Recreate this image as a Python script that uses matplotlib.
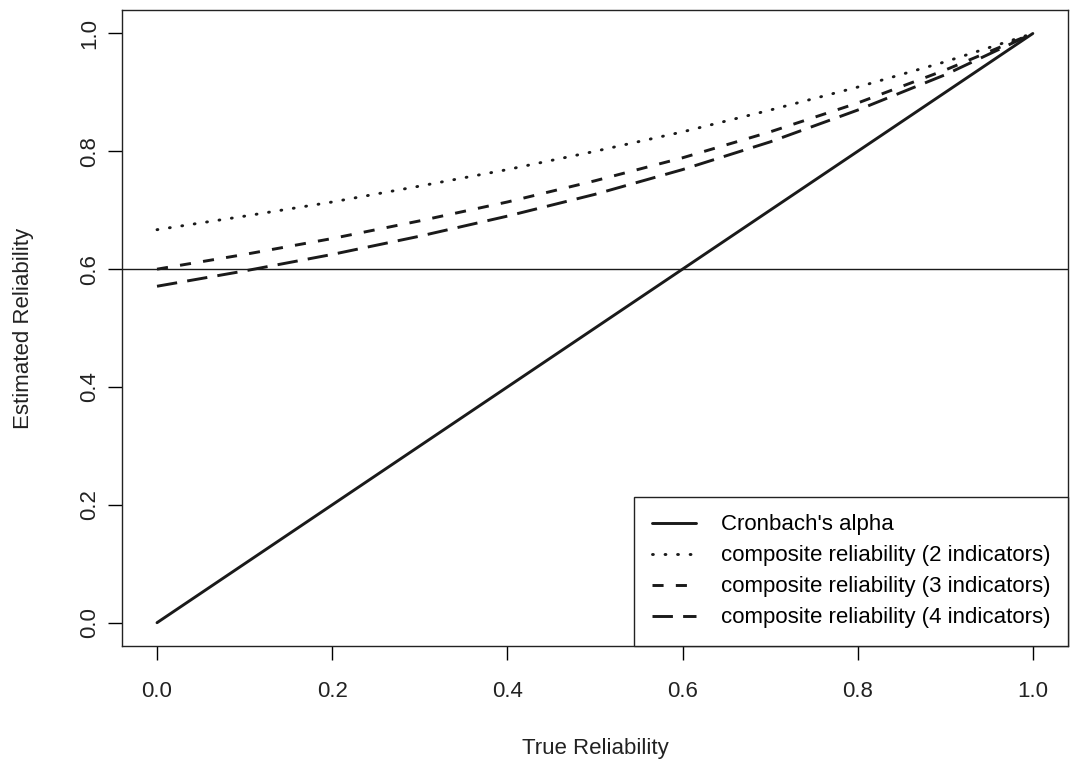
import matplotlib.pyplot as plt

plt.rcParams['font.family'] = ['Liberation Sans', 'DejaVu Sans']

true_rel = [0.0, 0.1, 0.2, 0.3, 0.4, 0.5, 0.6, 0.7, 0.8, 0.9, 1.0]
alpha = [0.0, 0.1, 0.2, 0.3, 0.4, 0.5, 0.6, 0.7, 0.8, 0.9, 1.0]
cr2 = [0.667, 0.690, 0.714, 0.741, 0.769, 0.800, 0.833, 0.870, 0.909, 0.952, 1.0]
cr3 = [0.600, 0.625, 0.652, 0.682, 0.714, 0.750, 0.789, 0.833, 0.882, 0.938, 1.0]
cr4 = [0.571, 0.597, 0.625, 0.656, 0.690, 0.727, 0.769, 0.816, 0.870, 0.930, 1.0]
labels = ["Cronbach's alpha",
          "composite reliability (2 indicators)",
          "composite reliability (3 indicators)",
          "composite reliability (4 indicators)"]
ticks = [0.0, 0.2, 0.4, 0.6, 0.8, 1.0]
threshold = 0.6

fs = 16
fig = plt.figure(figsize=(10.7, 7.63), dpi=100)
ax = fig.add_axes([0.114, 0.153, 0.884, 0.834])
col = '#1a1a1a'
lw = 2.1
ax.plot(true_rel, alpha, color=col, lw=lw, solid_capstyle='round', label=labels[0])
ax.plot(true_rel, cr2, color=col, lw=lw, dashes=(0.3, 4.0), dash_capstyle='round', label=labels[1])
ax.plot(true_rel, cr3, color=col, lw=lw, dashes=(3.8, 4.2), label=labels[2])
ax.plot(true_rel, cr4, color=col, lw=lw, dashes=(7.0, 3.5), label=labels[3])
ax.axhline(threshold, color=col, lw=1.0)

ax.set_xlim(-0.04, 1.04)
ax.set_ylim(-0.04, 1.04)
ax.set_xticks(ticks)
ax.set_yticks(ticks)
ax.set_xticklabels([f"{t:.1f}" for t in ticks], fontsize=fs, color='#222222')
ax.set_yticklabels([f"{t:.1f}" for t in ticks], fontsize=fs, color='#222222',
                   rotation=90, va='center')
ax.tick_params(axis='x', length=10, width=1, pad=15)
ax.tick_params(axis='y', length=10, width=1, pad=6)
ax.set_xlabel('True Reliability', fontsize=fs, labelpad=26, color='#222222')
ax.set_ylabel('Estimated Reliability', fontsize=fs, labelpad=32, color='#222222')
for s in ax.spines.values():
    s.set_linewidth(1.0)
    s.set_color('#222222')

leg = ax.legend(loc='lower right', bbox_to_anchor=(1.0, 0.0), fontsize=fs,
                frameon=True, fancybox=False, edgecolor='#222222', framealpha=1,
                borderaxespad=0, handlelength=2.0, handletextpad=1.1,
                labelspacing=0.45, borderpad=0.8)
leg.get_frame().set_linewidth(1.0)

fig.savefig('out.png', dpi=100)
